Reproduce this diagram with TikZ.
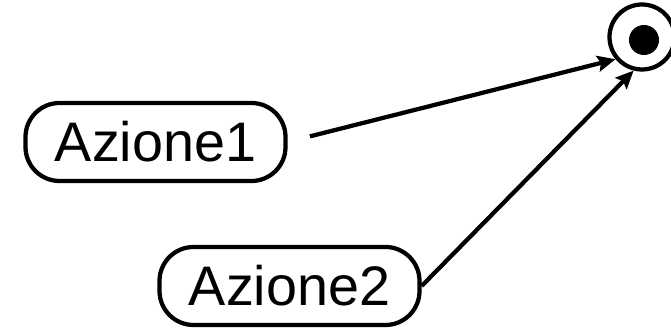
\documentclass[tikz,border=0pt]{standalone}
\usepackage{fontspec}
\setmainfont{Liberation Sans}
\usetikzlibrary{arrows.meta}

\begin{document}
\begin{tikzpicture}[
    azione/.style={draw, line width=0.085cm, rounded corners=0.68cm, minimum width=5.2cm, minimum height=1.56cm, font=\fontsize{31.7}{36}\selectfont, inner sep=0pt},
    freccia/.style={line width=0.085cm, -{Stealth[length=0.36cm,width=0.32cm,inset=0.06cm]}}
]
    \useasboundingbox (0,0) rectangle (13.42,6.56);
    % le due azioni
    \node[azione] (A1) at (3.11,3.72) {Azione1};
    \node[azione] (A2) at (5.79,0.84) {Azione2};
    % nodo finale
    \node[draw, circle, line width=0.085cm, minimum size=1.3cm, inner sep=0pt] (F) at (12.84,5.82) {};
    \fill ([shift={(0.04cm,-0.06cm)}]F.center) circle (0.3cm);
    % frecce verso il nodo finale
    \draw[freccia, shorten <=0.46cm] (A1.east) -- (F.220);
    \draw[freccia] (A2.east) -- (F.256);
\end{tikzpicture}
\end{document}
